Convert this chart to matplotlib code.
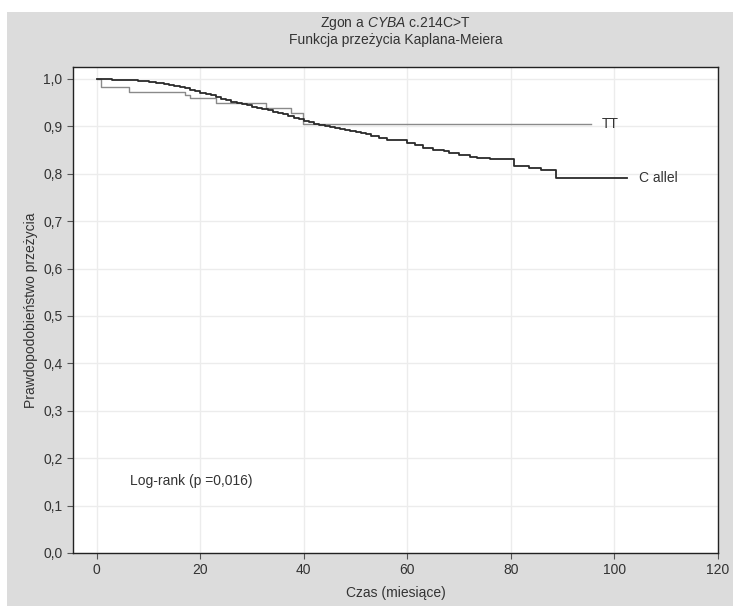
import matplotlib
matplotlib.use("Agg")
import matplotlib.pyplot as plt
from matplotlib.patches import Rectangle

plt.rcParams['font.family'] = ['Liberation Sans', 'DejaVu Sans']
plt.rcParams['mathtext.fontset'] = 'custom'
plt.rcParams['mathtext.rm'] = 'Liberation Sans'
plt.rcParams['mathtext.it'] = 'Liberation Sans:italic'

# --- data ---
c_times = [0, 3, 6, 8, 10, 11.5, 13, 14, 15, 16, 17, 18, 19, 20, 21, 22, 23, 24, 25, 26, 27,
           28, 29, 30, 31, 32, 33, 34, 35, 36, 37, 38, 39, 40, 41, 42, 43, 44, 45, 46, 47, 48,
           49, 50, 51, 52, 53, 54.5, 56, 60, 61.5, 63, 65, 67, 68, 70, 72, 73.4, 76, 80.5,
           83.5, 85.8, 88.8, 102.5]
c_surv = [1.0, 0.998, 0.997, 0.995, 0.993, 0.991, 0.989, 0.987, 0.985, 0.983, 0.980, 0.977,
          0.974, 0.971, 0.969, 0.965, 0.962, 0.958, 0.955, 0.952, 0.950, 0.947, 0.944, 0.941,
          0.939, 0.936, 0.934, 0.931, 0.929, 0.925, 0.922, 0.918, 0.915, 0.911, 0.908, 0.905,
          0.903, 0.901, 0.899, 0.897, 0.895, 0.892, 0.890, 0.888, 0.886, 0.883, 0.879, 0.875,
          0.870, 0.865, 0.860, 0.855, 0.851, 0.847, 0.844, 0.840, 0.836, 0.834, 0.830, 0.816,
          0.812, 0.807, 0.791, 0.791]

tt_times = [0, 0.8, 6.3, 17, 18, 23, 32.6, 37.6, 39.8, 95.5]
tt_surv = [1.0, 0.983, 0.973, 0.966, 0.960, 0.950, 0.938, 0.929, 0.905, 0.905]

x_ticks = [0, 20, 40, 60, 80, 100, 120]
y_ticks = [0.0, 0.1, 0.2, 0.3, 0.4, 0.5, 0.6, 0.7, 0.8, 0.9, 1.0]
y_ticklabels = ['0,0', '0,1', '0,2', '0,3', '0,4', '0,5', '0,6', '0,7', '0,8', '0,9', '1,0']

title_line1 = r"Zgon a $\it{CYBA}$ c.214C>T"
title_line2 = "Funkcja przeżycia Kaplana-Meiera"
xlabel = "Czas (miesiące)"
ylabel = "Prawdopodobieństwo przeżycia"
logrank_text = "Log-rank (p =0,016)"
label_c = "C allel"
label_tt = "TT"

# --- figure ---
fig = plt.figure(figsize=(7.33, 6.06), dpi=100, facecolor='white')
bg = '#dcdcdc'
fig.patches.append(Rectangle((7 / 733, 0), 1 - 7 / 733, (606 - 12) / 606,
                             transform=fig.transFigure, facecolor=bg, edgecolor='none',
                             zorder=-10))

ax = fig.add_axes([73 / 733, (606 - 553) / 606, (718 - 73) / 733, (553 - 67) / 606])
ax.set_zorder(5)
ax.set_facecolor('white')
ax.set_xlim(-4.6, 120)
ax.set_ylim(0, 1.025)

ax.set_xticks(x_ticks)
ax.set_yticks(y_ticks)
ax.set_yticklabels(y_ticklabels)
ax.grid(True, color='#ececec', linewidth=1.0)
ax.set_axisbelow(True)
ax.tick_params(axis='both', direction='out', length=4, width=0.8, color='#555555',
               labelsize=10, labelcolor='#333333')
for s in ax.spines.values():
    s.set_color('#222222')
    s.set_linewidth(1.0)

ax.step(tt_times, tt_surv, where='post', color='#8a8a8a', linewidth=1.0, zorder=3)
ax.step(c_times, c_surv, where='post', color='#2a2a2a', linewidth=1.3, zorder=4)

ax.text(tt_times[-1] + 2.0, tt_surv[-1], label_tt, ha='left', va='center',
        fontsize=10, color='#333333')
ax.text(c_times[-1] + 2.2, c_surv[-1], label_c, ha='left', va='center',
        fontsize=10, color='#333333')
ax.text(6.5, 0.152, logrank_text, ha='left', va='center', fontsize=10, color='#333333')

ax.set_xlabel(xlabel, fontsize=10, color='#333333', labelpad=6)
ax.set_ylabel(ylabel, fontsize=10, color='#333333', labelpad=4)

cx = (73 + 718) / 2 / 733
fig.text(cx, 1 - 24 / 606, title_line1, ha='center', va='center', fontsize=10, color='#333333')
fig.text(cx, 1 - 40 / 606, title_line2, ha='center', va='center', fontsize=10, color='#333333')

fig.savefig('out.png', dpi=100, facecolor=fig.get_facecolor())
